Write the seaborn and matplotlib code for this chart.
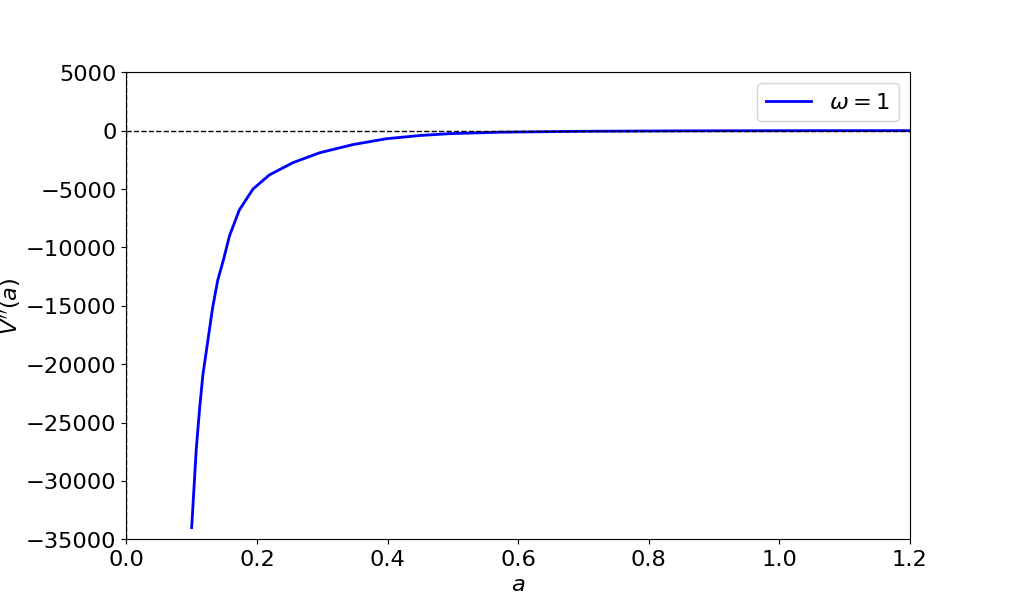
import pandas as pd
import numpy as np
import matplotlib
matplotlib.use("Agg")
import matplotlib.pyplot as plt
import seaborn as sns

# ---- values ----
a_vals = [0.100, 0.107, 0.112, 0.117, 0.125, 0.132, 0.140, 0.149, 0.158,
          0.173, 0.194, 0.219, 0.255, 0.296, 0.347, 0.398, 0.450, 0.496,
          0.572, 0.700, 0.850, 1.000, 1.200]
v_vals = [-34000, -27300, -23900, -21000, -17900, -15200, -12800, -11000, -9000,
          -6800, -5000, -3800, -2750, -1900, -1200, -700, -420, -260,
          -140, -60, -25, -10, -5]
series_label = r"$\omega=1$"
x_ticks = [0.0, 0.2, 0.4, 0.6, 0.8, 1.0, 1.2]
y_ticks = [5000, 0, -5000, -10000, -15000, -20000, -25000, -30000, -35000]

df = pd.DataFrame({"a": a_vals, "V": v_vals})

plt.rcParams["font.size"] = 16

fig, ax = plt.subplots(figsize=(10, 6), dpi=101.1)

sns.lineplot(data=df, x="a", y="V", color="blue", linewidth=2,
             label=series_label, ax=ax, sort=False)
ax.axhline(0, color="black", linestyle="--", linewidth=1)
ax.axvline(0, color="black", linestyle="--", linewidth=1)

ax.set_xlim(0, 1.2)
ax.set_ylim(-35000, 5000)
ax.set_xticks(x_ticks)
ax.set_yticks(y_ticks)
ax.tick_params(labelsize=16)
ax.set_xlabel(r"$a$", fontsize=16)
ax.set_ylabel(r"$V''(a)$", fontsize=16, labelpad=1)
ax.legend(loc="upper right", fontsize=16)

fig.savefig("out.png")
